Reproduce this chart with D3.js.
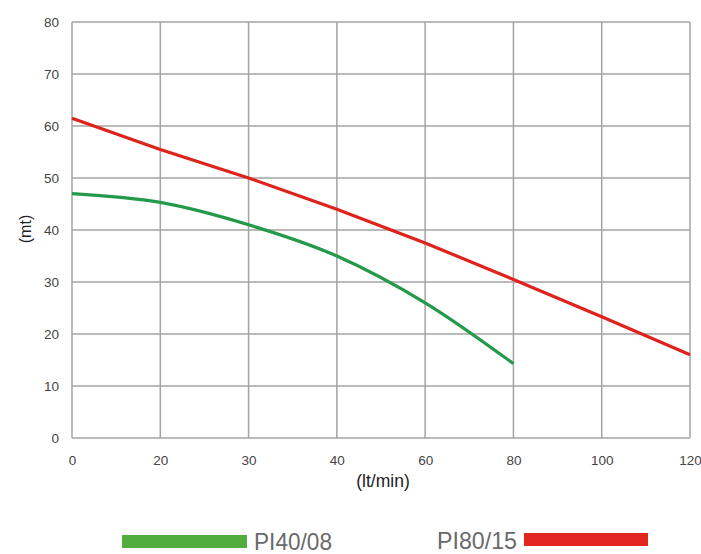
<!DOCTYPE html>
<html><head><meta charset="utf-8">
<script src="https://cdn.jsdelivr.net/npm/d3@7"></script>
<style>body{margin:0;background:#fff}svg{display:block}</style>
</head><body><svg id="c" width="701" height="554"></svg>
<script>
const xTicks = ["0","20","30","40","60","80","100","120"];
const yTicks = [0,10,20,30,40,50,60,70,80];
const pi4008 = [47,45.3,41,35,26,14.3];
const pi8015 = [61.5,55.5,50,44,37.5,30.5,23.3,16];
const seriesNames = ["PI40/08","PI80/15"];
const colors = ["#23994a","#e0221c"];
const legendColors = ["#52ad3f","#e3251f"];
const FONT = "Liberation Sans, Arial, sans-serif";

const svg = d3.select("#c");
const L=72,R=690,T=22,B=438;
const x = d3.scalePoint().domain(xTicks).range([L,R]);
const y = d3.scaleLinear().domain([0,80]).range([B,T]);
const g = svg.append("g");
// grid
g.selectAll(".gx").data(xTicks).enter().append("line")
 .attr("x1",d=>x(d)).attr("x2",d=>x(d)).attr("y1",T).attr("y2",B)
 .attr("stroke","#a3a3a3").attr("stroke-width",1.5);
g.selectAll(".gy").data(yTicks).enter().append("line")
 .attr("x1",L).attr("x2",R).attr("y1",d=>y(d)).attr("y2",d=>y(d))
 .attr("stroke","#a3a3a3").attr("stroke-width",1.5);
// axes
const xa = svg.append("g").attr("transform",`translate(0,${B})`).call(d3.axisBottom(x).tickSize(0).tickPadding(17));
const ya = svg.append("g").attr("transform",`translate(${L},0)`).call(d3.axisLeft(y).tickValues(yTicks).tickSize(0).tickPadding(13));
[xa,ya].forEach(a=>{a.select(".domain").remove();a.selectAll("text").attr("font-family",FONT).attr("font-size",13.5).attr("fill","#444");});
// lines
const line = d3.line().x((d,i)=>x(xTicks[i])).y(d=>y(d)).curve(d3.curveMonotoneX);
svg.append("path").datum(pi4008).attr("d",line).attr("fill","none").attr("stroke",colors[0]).attr("stroke-width",3.2);
svg.append("path").datum(pi8015).attr("d",d3.line().x((d,i)=>x(xTicks[i])).y(d=>y(d))).attr("fill","none").attr("stroke",colors[1]).attr("stroke-width",3.2);
// axis titles
svg.append("text").attr("transform","translate(31,229) rotate(-90)").attr("text-anchor","middle")
 .attr("font-family",FONT).attr("font-size",16).attr("fill","#222").text("(mt)");
svg.append("text").attr("x",383).attr("y",487).attr("text-anchor","middle")
 .attr("font-family",FONT).attr("font-size",17.5).attr("fill","#222").text("(lt/min)");
// legend
svg.append("rect").attr("x",122).attr("y",535).attr("width",125).attr("height",13).attr("fill",legendColors[0]);
svg.append("text").attr("x",254).attr("y",550).attr("font-family",FONT).attr("font-size",24).attr("fill","#6a6a6a")
 .attr("textLength",78).attr("lengthAdjust","spacingAndGlyphs").text(seriesNames[0]);
svg.append("text").attr("x",437).attr("y",549).attr("font-family",FONT).attr("font-size",24).attr("fill","#6a6a6a")
 .attr("textLength",80).attr("lengthAdjust","spacingAndGlyphs").text(seriesNames[1]);
svg.append("rect").attr("x",524).attr("y",533).attr("width",124).attr("height",13).attr("fill",legendColors[1]);
</script></body></html>
